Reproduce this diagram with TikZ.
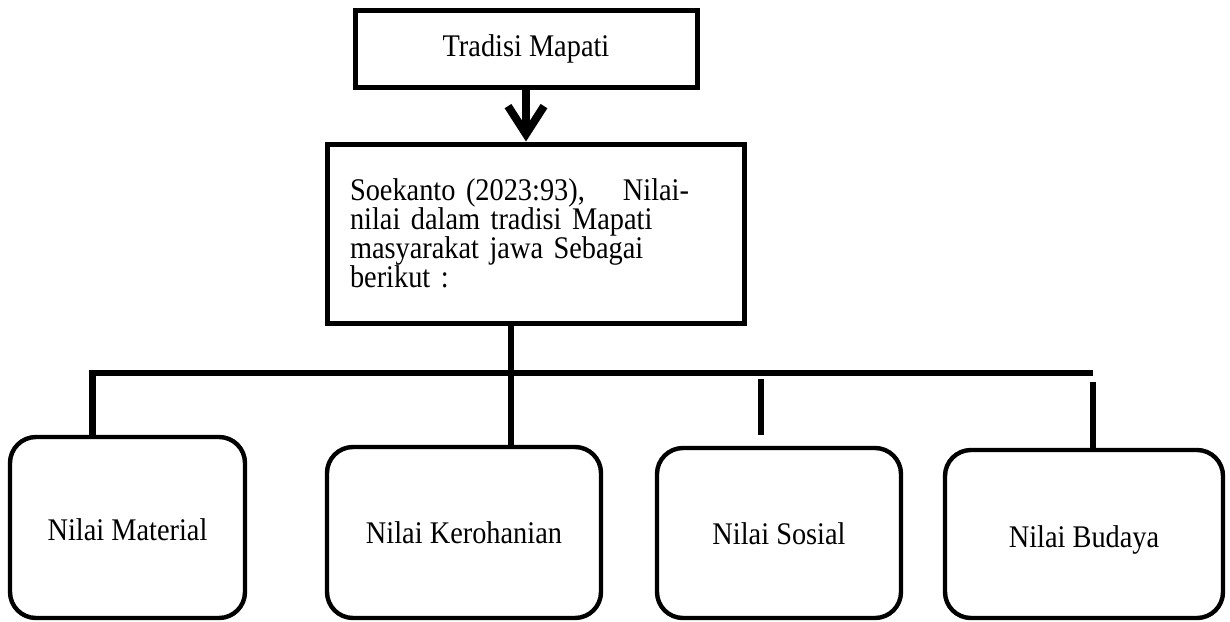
\documentclass[tikz,border=0pt]{standalone}
\usepackage{fontspec}
\setmainfont[FakeStretch=0.9]{Liberation Serif}
\usetikzlibrary{arrows.meta}
\tikzset{
    kotak/.style={draw, line width=2.5pt, fill=white, inner sep=0pt, font=\fontsize{15.75}{14.5}\selectfont},
    nilai/.style={draw, line width=2.2pt, rounded corners=13pt, inner sep=0pt, text depth=0pt, font=\fontsize{15.75}{14.5}\selectfont},
    garis/.style={line width=3pt},
}
\begin{document}
\begin{tikzpicture}[x=0.5pt, y=-0.5pt]
        \useasboundingbox (0,0) rectangle (1230,621);
        \node[kotak, minimum width=171pt, minimum height=38.5pt] (mapati) at (526,48.5) {Tradisi Mapati};
        \node[kotak, minimum width=208.5pt, minimum height=89.5pt, text width=185.5pt, inner xsep=11.5pt, align=left] (soekanto) at (535.5,233.5)
            {Soekanto (2023:93),\hspace{19pt}Nilai-\\nilai dalam tradisi Mapati\\masyarakat jawa Sebagai\\berikut :};
        \foreach \n/\cx/\cy/\w/\h/\b/\t in {material/127.5/527.5/117.5/90.5/12.5/Nilai Material,
                                             kerohanian/464/532.5/137/85.5/10.5/Nilai Kerohanian,
                                             sosial/779/533/122/85/11/Nilai Sosial,
                                             budaya/1084/534/139/84/13/Nilai Budaya}
        {
            \node[nilai, minimum width=\w pt, minimum height=\h pt, text height=\b pt] (\n) at (\cx,\cy) {\t};
        }
        \coordinate (kiri) at (92.5,373);
        \coordinate (kanan) at (1093,373);
        \coordinate (tengah) at (511,373);
        \coordinate (ruasA) at (761,379);
        \coordinate (ruasB) at (761,435);
        \coordinate (ruasD) at (1093,382);
        \draw[line width=4pt, -{Straight Barb[length=14pt,width=18pt]}] (mapati.south) -- (mapati.south |- soekanto.north);
        \draw[line width=3.3pt] (kiri |- material.north) -- (kiri) -- (kanan);
        \draw[garis] (tengah |- soekanto.south) -- (tengah |- kerohanian.north);
        \draw[garis] (ruasA) -- (ruasB);
        \draw[garis] (ruasD) -- (ruasD |- budaya.north);
    \end{tikzpicture}
\end{document}
